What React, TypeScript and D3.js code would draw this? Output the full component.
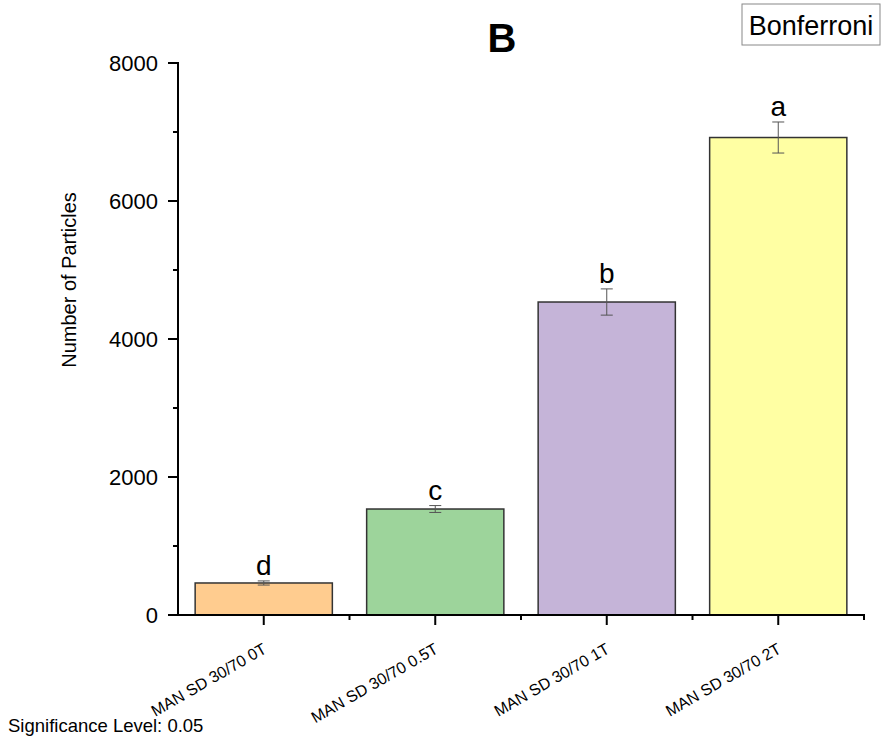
import React, { useEffect, useRef } from 'react';
import * as d3 from 'd3';

const categories = ['MAN SD 30/70 0T', 'MAN SD 30/70 0.5T', 'MAN SD 30/70 1T', 'MAN SD 30/70 2T'];
const means = [464, 1536, 4536, 6920];
const errors = [30, 50, 190, 225];
const letters = ['d', 'c', 'b', 'a'];
const colors = ['#FFCC8F', '#9DD49B', '#C5B4D8', '#FFFFA3'];
const majorTicks = [0, 2000, 4000, 6000, 8000];
const minorTicks = [1000, 3000, 5000, 7000];

const App = () => {
    const ref = useRef<SVGSVGElement>(null);

    useEffect(() => {
        const svg = d3.select(ref.current);
        svg.selectAll('*').remove();
        const font = 'Liberation Sans, Arial, sans-serif';

        const left = 178, right = 864, top = 63, bottom = 615;

        const x = d3.scaleBand().domain(categories).range([left, right]).paddingInner(0).paddingOuter(0);
        const y = d3.scaleLinear().domain([0, 8000]).range([bottom, top]);
        const bw = x.bandwidth() * 0.8;

        // bars
        categories.forEach((c, i) => {
            const cx = x(c)! + x.bandwidth() / 2;
            svg.append('rect')
                .attr('x', cx - bw / 2)
                .attr('y', y(means[i]))
                .attr('width', bw)
                .attr('height', y(0) - y(means[i]))
                .attr('fill', colors[i])
                .attr('stroke', '#333')
                .attr('stroke-width', 1.5);
            // error bar
            const eb = svg.append('g').attr('stroke', '#555').attr('stroke-width', 1);
            eb.append('line').attr('x1', cx).attr('x2', cx)
                .attr('y1', y(means[i] + errors[i])).attr('y2', y(means[i] - errors[i]));
            [means[i] + errors[i], means[i] - errors[i]].forEach(v => {
                eb.append('line').attr('x1', cx - 6).attr('x2', cx + 6).attr('y1', y(v)).attr('y2', y(v));
            });
            svg.append('text')
                .attr('x', cx)
                .attr('y', y(means[i] + errors[i]) - 6)
                .attr('text-anchor', 'middle')
                .attr('font-family', font)
                .attr('font-size', 28)
                .text(letters[i]);
        });

        // y axis
        const yg = svg.append('g').attr('stroke', '#000').attr('stroke-width', 2);
        yg.append('line').attr('x1', left).attr('x2', left).attr('y1', top - 1).attr('y2', bottom + 1);
        majorTicks.forEach(t => {
            yg.append('line').attr('x1', left - 10).attr('x2', left).attr('y1', y(t)).attr('y2', y(t));
            svg.append('text').attr('x', left - 20).attr('y', y(t) + 8)
                .attr('text-anchor', 'end').attr('font-family', font).attr('font-size', 22).text(t);
        });
        minorTicks.forEach(t => {
            yg.append('line').attr('x1', left - 5).attr('x2', left).attr('y1', y(t)).attr('y2', y(t));
        });

        // x axis
        const xg = svg.append('g').attr('stroke', '#000').attr('stroke-width', 2);
        xg.append('line').attr('x1', left - 1).attr('x2', right + 1).attr('y1', bottom).attr('y2', bottom);
        categories.forEach(c => {
            const cx = x(c)! + x.bandwidth() / 2;
            xg.append('line').attr('x1', cx).attr('x2', cx).attr('y1', bottom).attr('y2', bottom + 10);
            svg.append('text')
                .attr('transform', `translate(${cx + 4},${bottom + 37}) rotate(-30)`)
                .attr('text-anchor', 'end')
                .attr('font-family', font)
                .attr('font-size', 16)
                .text(c);
        });
        categories.forEach((c, i) => {
            if (i === 0) return;
            const bx = x(c)!;
            xg.append('line').attr('x1', bx).attr('x2', bx).attr('y1', bottom).attr('y2', bottom + 5);
        });
        xg.append('line').attr('x1', right).attr('x2', right).attr('y1', bottom).attr('y2', bottom + 5);

        // y title
        svg.append('text')
            .attr('transform', `translate(76,280) rotate(-90)`)
            .attr('text-anchor', 'middle')
            .attr('font-family', font)
            .attr('font-size', 20)
            .text('Number of Particles');

        // panel letter
        svg.append('text').attr('x', 502).attr('y', 52).attr('text-anchor', 'middle')
            .attr('font-family', font).attr('font-weight', 'bold').attr('font-size', 40).text('B');

        // method box
        svg.append('rect').attr('x', 742).attr('y', 4).attr('width', 138).attr('height', 41)
            .attr('fill', '#fff').attr('stroke', '#888').attr('stroke-width', 1);
        svg.append('text').attr('x', 811).attr('y', 35).attr('text-anchor', 'middle')
            .attr('font-family', font).attr('font-size', 27).text('Bonferroni');

        svg.append('text').attr('x', 8).attr('y', 732)
            .attr('font-family', font).attr('font-size', 18.5).text('Significance Level: 0.05');
    }, []);

    return (
        <svg ref={ref} width={883} height={740}
            style={{ position: 'absolute', left: 0, top: 0, background: '#fff' }} />
    );
};

export default App;
